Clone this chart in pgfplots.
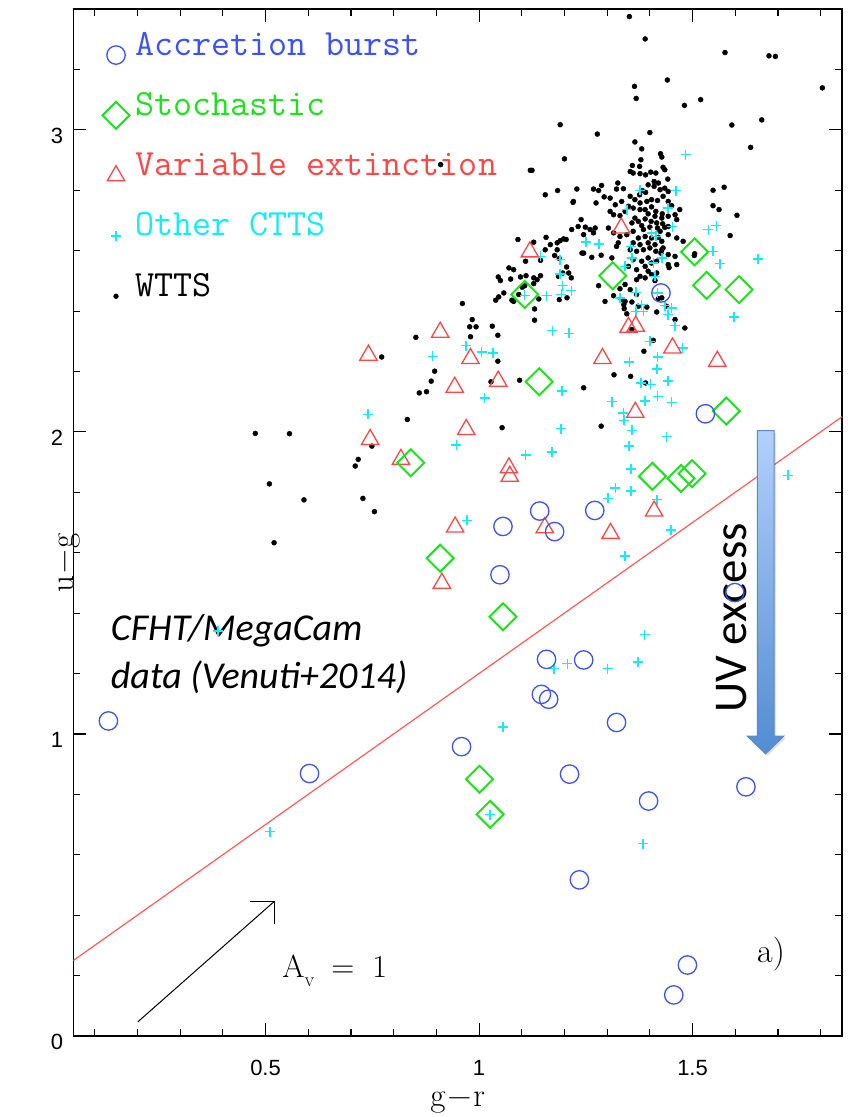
\documentclass[border=0pt]{standalone}
\usepackage{fontspec}
\usepackage{pgfplots}
\pgfplotsset{compat=1.18}
\newfontfamily\ticksf{Liberation Sans}
\newfontfamily\calibri{Carlito}
\definecolor{cblue}{RGB}{60,80,255}
\definecolor{cgreen}{RGB}{30,225,30}
\definecolor{cred}{RGB}{255,70,70}
\definecolor{ccyan}{RGB}{20,235,250}
\definecolor{cline}{RGB}{255,90,90}
\definecolor{arrtop}{RGB}{178,208,252}
\definecolor{arrbot}{RGB}{82,140,210}
\definecolor{arredge}{RGB}{95,135,200}
\pgfplotsset{mylegend/.style={legend image code/.code={\draw[##1] plot coordinates {(0pt,-5pt)};}}}
\begin{document}
\begin{tikzpicture}
\useasboundingbox (-73.4pt,-81pt) rectangle (773.6pt,1036pt);
\begin{axis}[
  at={(0pt,0pt)}, anchor=south west,
  scale only axis, width=768.6pt, height=1027pt,
  xmin=0.05, xmax=1.85, ymin=0, ymax=3.4,
  clip=false,
  xtick={0.5,1,1.5}, ytick={0,1,2,3},
  minor xtick={0.1,0.2,0.3,0.4,0.6,0.7,0.8,0.9,1.1,1.2,1.3,1.4,1.6,1.7,1.8},
  minor ytick={0.2,0.4,0.6,0.8,1.2,1.4,1.6,1.8,2.2,2.4,2.6,2.8,3.2},
  tick align=inside, major tick length=13pt, minor tick length=7pt,
  every tick/.style={black, line width=1.1pt},
  axis line style={line width=1.3pt},
  /pgf/number format/assume math mode=true,
  xticklabel style={font=\ticksf\fontsize{22}{22}\selectfont, inner sep=0pt, yshift=-24pt},
  yticklabel style={font=\ticksf\fontsize{22}{22}\selectfont, inner sep=0pt, xshift=-10pt, yshift=-6pt},
  xlabel={g\kern2pt−\kern2pt r},
  ylabel={u\kern2pt−\kern2pt g},
  xlabel style={at={(axis description cs:0.5,0)}, anchor=base, yshift=-70pt, font=\fontsize{33}{33}\selectfont},
  ylabel style={at={(axis description cs:0,0.5)}, anchor=base, xshift=-40.4pt, font=\fontsize{33}{33}\selectfont},
  legend cell align=left,
  legend style={at={(axis description cs:0.0379,0.9805)}, anchor=north west, draw=none, fill=none,
    inner sep=0pt, outer sep=0pt, column sep=5.5pt, row sep=18.3pt,
    font=\ttfamily\fontsize{37}{37}\selectfont,
    nodes={inner sep=0pt, text height=26pt, text depth=16pt}},
]
% legend entries
\addlegendimage{only marks, mark=o, draw=cblue, mark size=9.2pt, line width=1.3pt, mylegend}
\addlegendentry{\textcolor{cblue}{Accretion burst}}
\addlegendimage{only marks, mark=square, mark options={rotate=45}, draw=cgreen, mark size=9.55pt, line width=2pt, mylegend}
\addlegendentry{\textcolor{cgreen}{Stochastic}}
\addlegendimage{only marks, mark=triangle, draw=cred, mark size=10pt, line width=1.3pt, mylegend}
\addlegendentry{\textcolor{cred}{Variable extinction}}
\addlegendimage{only marks, mark=+, draw=ccyan, mark size=5pt, line width=1.5pt, mylegend}
\addlegendentry{\textcolor{ccyan}{Other CTTS}}
\addlegendimage{only marks, mark=*, draw=black, fill=black, mark size=2.4pt, mylegend}
\addlegendentry{\textcolor{black}{WTTS}}

% reference line
\addplot[forget plot, cline, line width=1.2pt] coordinates {(0.05,0.25) (1.85,2.05)};

% A_v arrow
\addplot[forget plot, black, line width=1pt] coordinates {(0.201,0.047) (0.520,0.445)};
\addplot[forget plot, black, line width=1pt] coordinates {(0.464,0.445) (0.520,0.445) (0.520,0.371)};

% WTTS
\addplot[forget plot, only marks, mark=*, draw=black, fill=black, mark size=2.5pt] coordinates {
(1.352,3.375)(1.389,3.301)(1.576,3.256)(1.679,3.245)(1.694,3.243)(1.441,3.165)(1.364,3.144)(1.368,3.104)(1.804,3.139)(1.481,3.081)(1.519,3.100)(1.592,3.016)(1.662,3.033)(1.190,3.017)(1.277,2.986)(1.400,2.991)(1.636,2.942)(1.365,2.960)(1.381,2.937)(1.200,2.904)(1.120,2.866)(1.124,2.866)(0.910,2.885)(1.425,2.921)(1.428,2.910)(1.379,2.901)
(1.359,2.882)(1.376,2.879)(1.431,2.876)(1.435,2.868)(1.354,2.862)(1.361,2.857)(1.377,2.855)(1.390,2.851)(1.402,2.860)(1.414,2.857)(1.410,2.829)(1.442,2.837)(1.420,2.824)(1.396,2.818)(1.410,2.813)(1.424,2.802)(1.435,2.807)(1.443,2.796)(1.382,2.799)(1.390,2.793)(1.376,2.785)(1.325,2.824)(1.338,2.805)(1.322,2.804)(1.287,2.816)(1.280,2.799)(1.268,2.804)(1.229,2.804)(1.293,2.778)(1.307,2.774)(1.354,2.780)(1.365,2.769)(1.377,2.758)(1.393,2.763)(1.404,2.769)(1.418,2.766)(1.431,2.780)(1.443,2.763)(1.451,2.749)(1.470,2.736)(1.221,2.763)(1.274,2.758)(1.319,2.752)(1.334,2.763)(1.350,2.747)(1.342,2.730)(1.361,2.741)(1.377,2.736)(1.389,2.736)(1.404,2.745)(1.414,2.730)(1.429,2.722)(1.396,2.722)(1.412,2.714)(1.428,2.708)(1.443,2.714)(1.459,2.719)(1.307,2.730)(1.315,2.719)(1.330,2.716)(1.365,2.708)(1.389,2.705)(1.403,2.697)(1.416,2.692)(1.430,2.689)(1.443,2.680)(1.381,2.683)(1.400,2.678)(1.418,2.675)(1.239,2.703)(1.232,2.680)(1.249,2.678)(1.272,2.675)(1.358,2.692)(1.373,2.697)
(1.260,2.670)(1.268,2.659)(1.245,2.653)(1.217,2.670)(1.303,2.675)(1.315,2.659)(1.330,2.647)(1.346,2.653)(1.361,2.664)(1.385,2.670)(1.424,2.664)(1.435,2.677)(1.443,2.653)(1.373,2.642)(1.389,2.647)(1.404,2.642)(1.420,2.644)(1.361,2.626)(1.377,2.620)(1.396,2.626)(1.412,2.620)(1.428,2.631)(1.463,2.642)(1.478,2.631)(1.326,2.626)(1.322,2.614)(1.354,2.603)(1.369,2.598)(1.385,2.603)(1.400,2.609)(1.414,2.598)(1.428,2.603)(1.443,2.587)(1.459,2.581)(1.245,2.592)(1.264,2.578)(1.286,2.585)(1.311,2.576)(1.361,2.570)(1.381,2.565)(1.396,2.576)(1.404,2.559)(1.416,2.565)(1.443,2.554)(1.463,2.554)(1.350,2.548)(1.369,2.537)(1.389,2.548)(1.396,2.532)(1.404,2.521)(1.416,2.526)(1.377,2.515)(1.389,2.510)(1.369,2.504)(1.412,2.501)(1.210,2.526)(1.216,2.510)(1.342,2.488)(1.280,2.484)(1.315,2.451)(1.330,2.474)(1.354,2.471)(1.369,2.455)(1.358,2.430)(1.373,2.416)(1.393,2.413)(1.346,2.391)(1.295,2.432)(1.420,2.441)(1.428,2.444)(1.482,2.344)(1.459,2.372)(1.439,2.416)(1.416,2.397)
(1.241,2.592)(1.333,2.438)(1.339,2.421)(1.445,2.544)(1.431,2.609)(1.426,2.592)(1.504,2.584)(1.505,2.590)(1.548,2.800)(1.574,2.810)(1.548,2.749)(1.562,2.736)(1.604,2.717)(1.588,2.650)(1.463,2.703)(1.408,2.303)(1.386,2.267)(1.390,2.162)(1.355,2.184)(1.316,2.189)(1.286,2.019)(1.245,2.146)(1.340,2.408)(1.342,2.432)(1.358,2.339)
(1.155,2.785)(1.184,2.799)(1.220,2.760)(1.091,2.637)(1.128,2.628)(1.157,2.644)(1.167,2.620)(1.183,2.626)(1.190,2.633)(1.198,2.639)(1.204,2.637)(1.155,2.603)(1.183,2.603)(1.177,2.584)(1.188,2.574)(1.205,2.546)(1.196,2.526)(1.186,2.515)(1.070,2.543)(1.081,2.537)(1.045,2.513)(1.050,2.501)(1.074,2.506)(1.097,2.513)(1.110,2.517)(1.128,2.510)(1.136,2.504)(1.128,2.491)(1.107,2.484)(1.101,2.479)(1.093,2.455)(1.058,2.460)(1.046,2.447)(1.039,2.436)(1.077,2.436)(1.140,2.440)(1.188,2.438)(1.206,2.444)(0.961,2.425)(0.984,2.372)(0.978,2.348)(0.993,2.348)(1.031,2.350)(1.130,2.407)(1.130,2.370)(1.144,2.568)(1.109,2.565)(1.144,2.517)
(1.081,2.432)(0.980,2.315)(1.044,2.320)(0.852,2.313)(1.044,2.234)(0.896,2.201)(0.888,2.168)(0.877,2.133)(0.860,2.129)(1.028,2.166)(1.095,2.171)(0.832,2.041)(1.054,2.014)(0.772,2.248)(0.476,1.995)(0.556,1.994)(0.749,1.953)(0.717,1.909)(0.710,1.887)(0.509,1.828)(0.590,1.775)(0.728,1.780)(0.755,1.736)(0.520,1.633)
};

% Other CTTS
\addplot[forget plot, only marks, mark=+, draw=ccyan, mark size=5pt, line width=1.5pt] coordinates {
(1.484,2.918)(1.377,2.800)(1.461,2.799)(1.442,2.741)(1.346,2.736)(1.453,2.680)(1.537,2.670)(1.556,2.683)(1.251,2.628)(1.281,2.622)(1.355,2.614)(1.404,2.659)(1.414,2.647)(1.548,2.598)(1.653,2.573)(1.564,2.557)(1.144,2.581)(1.189,2.570)(1.189,2.523)(1.196,2.484)(1.216,2.468)(1.158,2.451)(1.193,2.455)(1.107,2.452)(1.342,2.548)(1.358,2.576)(1.408,2.559)(1.428,2.576)(1.412,2.515)(1.330,2.444)(1.367,2.462)(1.418,2.460)(1.381,2.421)(1.367,2.399)(1.385,2.399)(1.435,2.418)(1.451,2.411)(1.443,2.388)(1.597,2.381)(0.891,2.250)(0.970,2.286)(1.006,2.265)(1.033,2.262)(1.172,2.335)(1.211,2.326)(1.013,2.113)(1.194,2.135)(0.947,1.956)(1.109,1.923)(1.171,1.933)(1.192,2.011)(1.311,2.100)(1.338,2.063)(1.340,2.038)(1.358,2.005)(1.351,1.953)(1.356,1.878)(1.319,1.815)(1.302,1.780)(1.356,1.804)(1.417,1.776)(1.439,1.984)(1.451,2.098)(1.418,2.118)(1.389,2.102)(1.442,2.168)(1.402,2.157)(1.379,2.162)(1.417,2.209)(1.418,2.248)(1.352,2.231)(1.400,2.300)(1.477,2.278)(1.459,2.352)(1.449,1.675)(1.342,1.589)(1.723,1.856)(0.972,1.707)(1.388,1.329)(1.372,1.238)(1.301,1.216)(1.207,1.233)(1.175,1.216)(1.056,1.023)(1.384,0.637)(1.026,0.733)(0.389,1.341)(0.510,0.677)(0.740,2.058)
};

% Variable extinction
\addplot[forget plot, only marks, mark=triangle, draw=cred, mark size=10pt, line width=1.3pt] coordinates {
(1.119,2.596)(1.333,2.675)(0.909,2.330)(0.980,2.243)(0.943,2.148)(1.045,2.168)(0.970,2.008)(0.817,1.909)(1.070,1.881)(1.072,1.853)(0.944,1.685)(1.154,1.683)(1.308,1.664)(0.913,1.499)(1.289,2.243)(1.350,2.346)(1.367,2.350)(1.453,2.278)(1.558,2.234)(1.366,2.065)(1.410,1.738)(0.741,2.254)(0.745,1.975)
};

% Stochastic
\addplot[forget plot, only marks, mark=square, mark options={rotate=45}, draw=cgreen, mark size=9.55pt, line width=2pt] coordinates {
(1.107,2.455)(1.313,2.517)(1.505,2.596)(1.533,2.485)(1.609,2.471)(1.141,2.166)(1.579,2.069)(0.840,1.898)(1.406,1.853)(1.473,1.846)(1.499,1.862)(0.909,1.582)(1.056,1.388)(1.001,0.850)(1.026,0.734)
};

% Accretion burst
\addplot[forget plot, only marks, mark=o, draw=cblue, mark size=9.2pt, line width=1.3pt] coordinates {
(0.132,1.043)(0.603,0.869)(0.959,0.958)(1.158,1.247)(1.245,1.245)(1.146,1.131)(1.163,1.115)(1.322,1.038)(1.212,0.867)(1.397,0.778)(1.625,0.825)(1.235,0.517)(1.488,0.235)(1.456,0.136)(1.599,1.468)(1.530,2.060)(1.056,1.687)(1.142,1.738)(1.177,1.670)(1.271,1.740)(1.049,1.527)(1.426,2.460)
};

% UV excess arrow
\fill[black, opacity=0.12] (axis cs:1.657,1.998) -- (axis cs:1.696,1.998) -- (axis cs:1.696,0.987) -- (axis cs:1.719,0.987) -- (axis cs:1.676,0.928) -- (axis cs:1.633,0.987) -- (axis cs:1.657,0.987) -- cycle;
\shade[top color=arrtop, bottom color=arrbot, draw=arredge, line width=1pt]
  (axis cs:1.652,2.004) -- (axis cs:1.691,2.004) -- (axis cs:1.691,0.993) -- (axis cs:1.714,0.993)
  -- (axis cs:1.671,0.934) -- (axis cs:1.628,0.993) -- (axis cs:1.652,0.993) -- cycle;
\node[rotate=90, anchor=base west, inner sep=0pt, font=\calibri\fontsize{47}{47}\selectfont] at (axis cs:1.627,1.070) {UV excess};

% annotation text
\node[anchor=base west, inner sep=0pt, font=\calibri\itshape\fontsize{38}{38}\selectfont] at (axis cs:0.1375,1.311) {CFHT/MegaCam};
\node[anchor=base west, inner sep=0pt, font=\calibri\itshape\fontsize{38}{38}\selectfont] at (axis cs:0.1375,1.152) {data (Venuti+2014)};
\node[anchor=base west, inner sep=0pt, font=\fontsize{32}{32}\selectfont] at (axis cs:0.539,0.195) {A\raisebox{-9pt}{\fontsize{20}{20}\selectfont v}\hspace{17pt}=\hspace{18pt}1};
\node[anchor=base west, inner sep=0pt, font=\fontsize{34}{34}\selectfont] at (axis cs:1.651,0.242) {a)};
\end{axis}
\end{tikzpicture}
\end{document}
